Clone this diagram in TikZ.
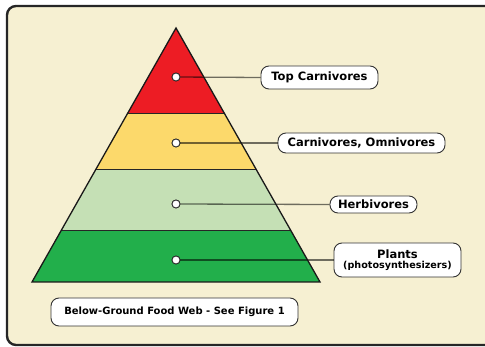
\documentclass[tikz,border=0pt]{standalone}
\usepackage{fontspec}
\setsansfont{DejaVu Sans}
\definecolor{paper}{HTML}{F6F0D2}
\definecolor{topred}{HTML}{ED1C24}
\definecolor{carnyellow}{HTML}{FCD96B}
\definecolor{herbgreen}{HTML}{C5E0B5}
\definecolor{plantgreen}{HTML}{22AF4B}
\begin{document}
\begin{tikzpicture}[x=1pt, y=-1pt,
                    tag/.style = {shape = rectangle,
                                  rounded corners = 8pt,
                                  fill = white,
                                  draw = black!80,
                                  line width = 0.9pt,
                                  inner sep = 0pt,
                                  align = center,
                                  font = \sffamily\bfseries\fontsize{11.5}{12}\selectfont},
                    dot/.style = {shape = circle,
                                  fill = white,
                                  draw = black!85,
                                  line width = 0.8pt,
                                  inner sep = 0pt,
                                  minimum size = 8pt},
                    link/.style = {draw = black, draw opacity = 0.55, line width = 1.3pt}]
	\useasboundingbox (0,0) rectangle (485,347);
	% frame
	\draw[fill = paper, draw = black!85, line width = 2.4pt, rounded corners = 9pt]
		(7,6) rectangle (495,345);
	% pyramid bands, with the lines between them
	\begin{scope}
		\clip (176,28) -- (320,282) -- (32,282) -- cycle;
		\fill[topred] (0,20) rectangle (400,113);
		\fill[carnyellow] (0,113) rectangle (400,169);
		\fill[herbgreen] (0,169) rectangle (400,230);
		\fill[plantgreen] (0,230) rectangle (400,290);
		\draw[black!85, line width = 0.8pt] (0,113) -- (400,113)
			(0,169) -- (400,169) (0,230) -- (400,230);
	\end{scope}
	% dots and labels
	\node[dot] (1) at (176,77) {};
	\node[dot] (2) at (176,143) {};
	\node[dot] (3) at (176,204) {};
	\node[dot] (4) at (176,260) {};
	\node[tag, minimum width = 117pt, minimum height = 23pt] (l1) at (319.5,77.5) {Top Carnivores};
	\node[tag, minimum width = 167pt, minimum height = 20pt] (l2) at (361.5,143) {Carnivores, Omnivores};
	\node[tag, minimum width = 87pt, minimum height = 17pt] (l3) at (373.5,204.5) {Herbivores};
	\node[tag, minimum width = 127pt, minimum height = 34pt] (l4) at (397.5,260)
		{Plants\\[-2pt]{\fontsize{9.6}{10}\selectfont(photosynthesizers)}};
	\node[tag, minimum width = 247pt, minimum height = 28pt,
	      font = \sffamily\bfseries\fontsize{10}{11}\selectfont] (web) at (174.5,312)
		{Below-Ground Food Web - See Figure 1};
	\path[link] (1) -- (l1.west);
	\path[link] (2) -- (l2.west);
	\path[link] (3) -- (l3.west);
	\path[link] (4) -- (l4.west);
	% outline
	\draw[black!90, line width = 1.3pt, line join = miter] (176,28) -- (320,282) -- (32,282) -- cycle;
	\node[dot] at (1) {};
	\node[dot] at (2) {};
	\node[dot] at (3) {};
	\node[dot] at (4) {};
\end{tikzpicture}
\end{document}
